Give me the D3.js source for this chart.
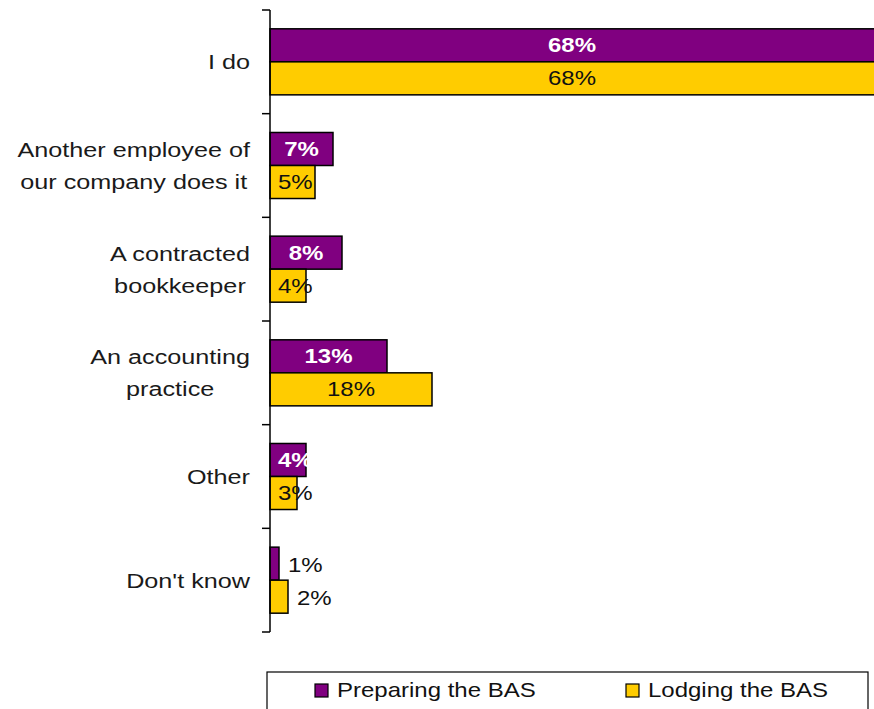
<!DOCTYPE html>
<html><head><meta charset="utf-8">
<script src="https://cdn.jsdelivr.net/npm/d3@7"></script>
<style>html,body{margin:0;padding:0;background:#fff;overflow:hidden}</style>
</head><body>
<svg id="c" width="874" height="709"></svg>
<script>
const categories = [["I do"], ["Another employee of", "our company does it"], ["A contracted", "bookkeeper"], ["An accounting", "practice"], ["Other"], ["Don't know"]];
const seriesNames = ["Preparing the BAS", "Lodging the BAS"];
const preparing = [68, 7, 8, 13, 4, 1];
const lodging = [68, 5, 4, 18, 3, 2];
const colors = ["#800080", "#FFCC00"];

const svg = d3.select("#c");
const FONT = "'Liberation Sans', Arial, Helvetica, sans-serif";
const SX = 1.2;
const keys = categories.map((c, i) => i);

const x = d3.scaleLinear().domain([0, 68]).range([270, 882]);
const y = d3.scaleBand().domain(keys).range([10, 632]).paddingInner(0.363).paddingOuter(0.1815);
const ys = d3.scaleBand().domain([0, 1]).range([0, y.bandwidth()]);

function stext(g, tx, ty, str, opts) {
  return g.append("text")
    .attr("transform", `translate(${tx},${ty}) scale(${SX},1)`)
    .attr("font-family", FONT)
    .attr("font-size", opts.size)
    .attr("font-weight", opts.weight || "normal")
    .attr("fill", opts.fill || "#111")
    .attr("text-anchor", opts.anchor || "start")
    .text(str);
}

// bars
const series = [preparing, lodging];
series.forEach((vals, si) => {
  svg.append("g").selectAll("rect").data(vals).join("rect")
    .attr("x", x(0))
    .attr("y", (d, i) => y(i) + ys(si))
    .attr("width", d => x(d) - x(0))
    .attr("height", ys.bandwidth())
    .attr("fill", colors[si])
    .attr("stroke", "#000")
    .attr("stroke-width", 1.5);
});

// value labels
const lg = svg.append("g");
series.forEach((vals, si) => {
  vals.forEach((v, i) => {
    const w = x(v) - x(0);
    const cy = y(i) + ys(si) + ys.bandwidth() / 2 + 7;
    if (w < 20) {
      stext(lg, x(v) + 9, cy + 1, v + "%", {size: 20, fill: "#111"});
    } else {
      const right = Math.min(x(v), 874);
      const t = stext(lg, 0, cy, v + "%", {
        size: 20,
        weight: si === 0 ? "bold" : "normal",
        fill: si === 0 ? "#fff" : "#111"
      });
      const tw = t.node().getComputedTextLength() * SX;
      const sx = Math.max((x(0) + right) / 2 - tw / 2, x(0) + 8);
      t.attr("transform", `translate(${sx},${cy}) scale(${SX},1)`);
    }
  });
});

// axis
const ax = svg.append("g");
ax.append("line").attr("x1", 270).attr("x2", 270).attr("y1", 10).attr("y2", 632)
  .attr("stroke", "#000").attr("stroke-width", 1.5);
const tickYs = keys.map(i => y(i) - y.step() * y.paddingInner() / 2).concat([632]);
tickYs[0] = 10;
ax.selectAll("line.t").data(tickYs).join("line").attr("class", "t")
  .attr("x1", 262).attr("x2", 270).attr("y1", d => d).attr("y2", d => d)
  .attr("stroke", "#000").attr("stroke-width", 1.5);

// category labels
const cg = svg.append("g");
const measure = cg.append("text").attr("font-family", FONT).attr("font-size", 21);
categories.forEach((lines, i) => {
  let maxW = 0;
  lines.forEach(l => { measure.text(l); maxW = Math.max(maxW, measure.node().getComputedTextLength() * SX); });
  const cx = 250 - maxW / 2;
  const center = y(i) + y.bandwidth() / 2;
  const n = lines.length;
  lines.forEach((l, k) => {
    const by = center + (k - (n - 1) / 2) * 32 + 7.5;
    stext(cg, cx, by, l, {size: 21, anchor: "middle", fill: "#1a1a1a"});
  });
});
measure.remove();

// legend
const leg = svg.append("g");
leg.append("rect").attr("x", 267).attr("y", 672).attr("width", 601).attr("height", 60)
  .attr("fill", "#fff").attr("stroke", "#000").attr("stroke-width", 1.2);
const legX = [315, 626];
seriesNames.forEach((s, i) => {
  leg.append("rect").attr("x", legX[i]).attr("y", 684).attr("width", 13).attr("height", 13)
    .attr("fill", colors[i]).attr("stroke", "#000").attr("stroke-width", 1.2);
  stext(leg, legX[i] + 22, 697, s, {size: 20, fill: "#111"});
});
</script>
</body></html>
